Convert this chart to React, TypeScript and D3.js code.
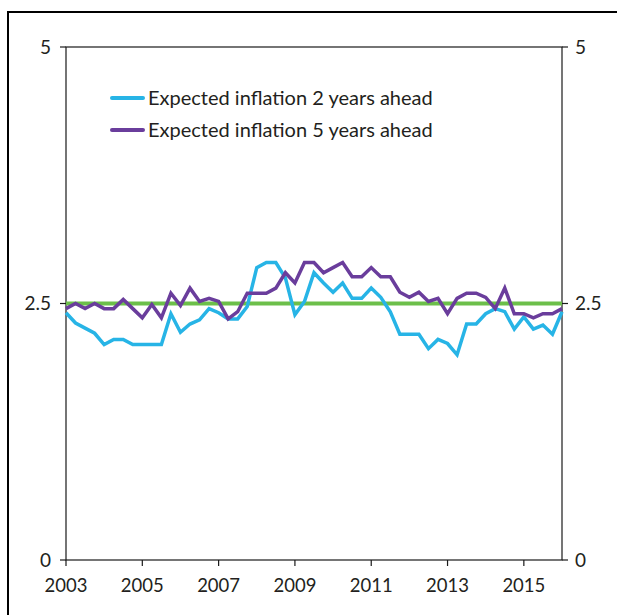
import React from "react";
import * as d3 from "d3";

const startYear = 2003;
const quarterStep = 0.25;

const seriesNames = ["Expected inflation 2 years ahead", "Expected inflation 5 years ahead"];
const seriesColors = ["#27b4e6", "#6a3d9c"];

const twoYear = [
  2.41, 2.31, 2.26, 2.21, 2.1, 2.15, 2.15, 2.1, 2.1, 2.1, 2.1, 2.4, 2.22, 2.3,
  2.34, 2.45, 2.41, 2.35, 2.35, 2.47, 2.85, 2.9, 2.9, 2.75, 2.39, 2.52, 2.8,
  2.7, 2.61, 2.7, 2.55, 2.55, 2.65, 2.56, 2.42, 2.2, 2.2, 2.2, 2.06, 2.15,
  2.11, 2.0, 2.3, 2.3, 2.4, 2.45, 2.42, 2.25, 2.37, 2.25, 2.29, 2.2, 2.42,
];

const fiveYear = [
  2.45, 2.5, 2.45, 2.5, 2.45, 2.45, 2.54, 2.45, 2.36, 2.49, 2.36, 2.6, 2.48,
  2.65, 2.52, 2.55, 2.52, 2.35, 2.42, 2.6, 2.6, 2.6, 2.65, 2.8, 2.7, 2.9, 2.9,
  2.8, 2.85, 2.9, 2.76, 2.76, 2.85, 2.76, 2.76, 2.61, 2.56, 2.61, 2.52, 2.55,
  2.4, 2.55, 2.6, 2.6, 2.56, 2.45, 2.65, 2.4, 2.4, 2.36, 2.4, 2.4, 2.45,
];

const targetValue = 2.5;
const yTicks = [0, 2.5, 5];
const xTicks = [2003, 2005, 2007, 2009, 2011, 2013, 2015];

const FONT = "Lato, 'Open Sans', sans-serif";

export default function App() {
  const left = 66;
  const right = 562;
  const top = 47;
  const bottom = 560;

  const x = d3.scaleLinear().domain([2003, 2016]).range([left, right]);
  const y = d3.scaleLinear().domain([0, 5]).range([bottom, top]);

  const line = d3
    .line<number>()
    .x((_, i) => x(startYear + i * quarterStep))
    .y((d) => y(d));

  const series = [twoYear, fiveYear];

  return (
    <div style={{ position: "absolute", left: 0, top: 0 }}>
      <svg width={617} height={615} style={{ display: "block", fontFamily: FONT }}>
        <rect x={0} y={0} width={617} height={615} fill="#fff" />
        <line x1={8} x2={8} y1={11} y2={615} stroke="#000" strokeWidth={2} />
        <line x1={7} x2={617} y1={12} y2={12} stroke="#000" strokeWidth={2} />

        {/* plot frame */}
        <rect x={left} y={top} width={right - left} height={bottom - top} fill="none" stroke="#1a1a1a" strokeWidth={1.2} />

        {/* y ticks */}
        {yTicks.map((t) => (
          <g key={"y" + t}>
            <line x1={left - 6} x2={left} y1={y(t)} y2={y(t)} stroke="#1a1a1a" strokeWidth={1.2} />
            <line x1={right} x2={right + 6} y1={y(t)} y2={y(t)} stroke="#1a1a1a" strokeWidth={1.2} />
            <text x={left - 15} y={y(t)} dy="0.35em" textAnchor="end" fontSize={19} fill="#231f20">
              {String(t)}
            </text>
            <text x={right + 13} y={y(t)} dy="0.35em" textAnchor="start" fontSize={19} fill="#231f20">
              {String(t)}
            </text>
          </g>
        ))}

        {/* x ticks */}
        {xTicks.map((t) => (
          <g key={"x" + t}>
            <line x1={x(t)} x2={x(t)} y1={bottom} y2={bottom + 6} stroke="#1a1a1a" strokeWidth={1.2} />
            <text x={x(t)} y={bottom + 32} textAnchor="middle" fontSize={18.5} fill="#231f20">
              {String(t)}
            </text>
          </g>
        ))}

        {/* target line */}
        <line x1={x(2003)} x2={x(2016)} y1={y(targetValue)} y2={y(targetValue)} stroke="#6cbf4a" strokeWidth={4} />

        {series.map((s, k) => (
          <path
            key={"s" + k}
            d={line(s) || ""}
            fill="none"
            stroke={seriesColors[k]}
            strokeWidth={3.5}
            strokeLinejoin="miter"
          />
        ))}

        {/* legend */}
        {seriesNames.map((name, k) => (
          <g key={"l" + k} transform={`translate(112, ${98 + k * 32})`}>
            <line x1={0} x2={31} y1={0} y2={0} stroke={seriesColors[k]} strokeWidth={4} strokeLinecap="round" />
            <text x={36} y={0} dy="0.35em" fontSize={20} fill="#231f20">
              {name}
            </text>
          </g>
        ))}
      </svg>
    </div>
  );
}
